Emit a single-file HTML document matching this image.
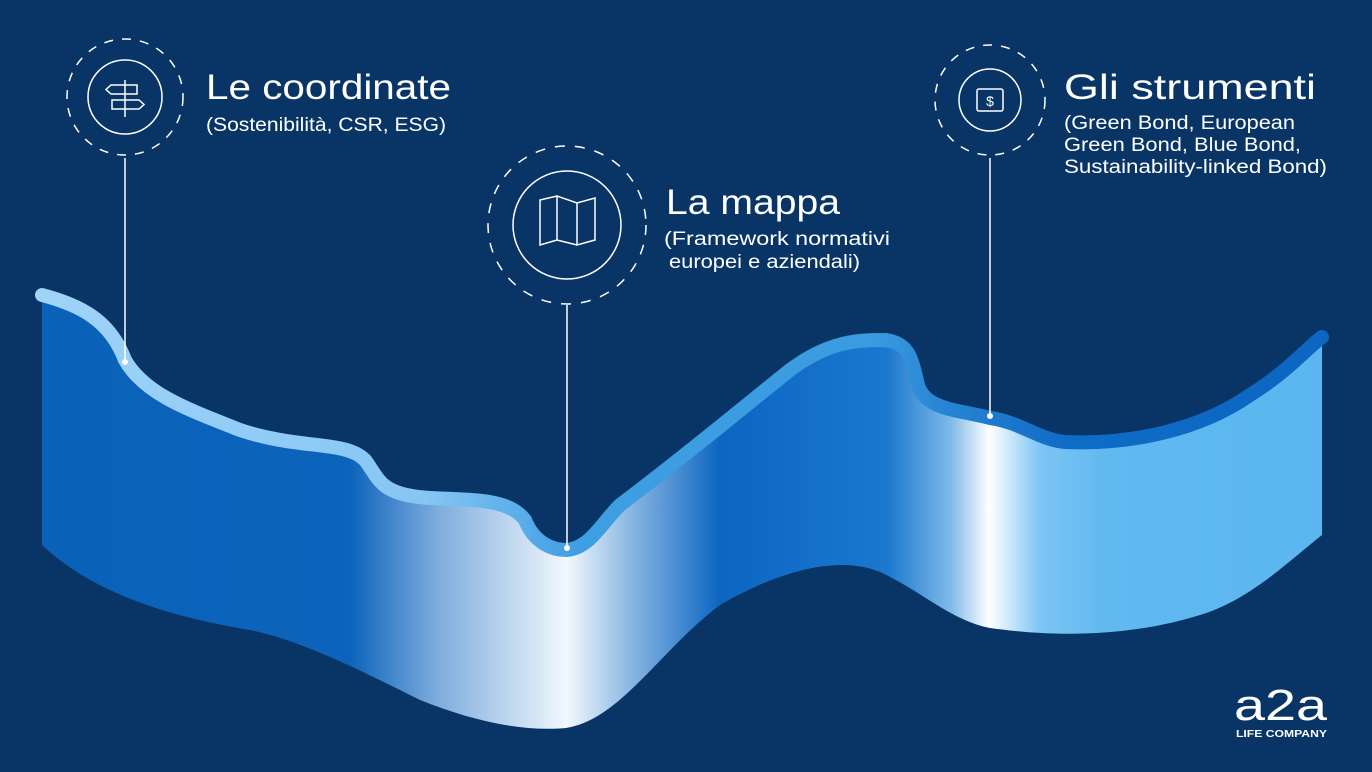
<!DOCTYPE html>
<html><head><meta charset="utf-8"><style>
html,body{margin:0;padding:0;background:#083566;}
svg{display:block;}
text{font-family:"Liberation Sans",sans-serif;fill:#fff;}
</style></head><body>
<svg width="1372" height="772" viewBox="0 0 1372 772" xmlns="http://www.w3.org/2000/svg">
<defs>
<linearGradient id="rib" x1="42" y1="0" x2="1322" y2="0" gradientUnits="userSpaceOnUse">
<stop offset="0" stop-color="#0a62b8"/>
<stop offset="0.24" stop-color="#0b63bb"/>
<stop offset="0.31" stop-color="#7fadde"/>
<stop offset="0.41" stop-color="#f2f8fd"/>
<stop offset="0.46" stop-color="#8ab6e2"/>
<stop offset="0.53" stop-color="#0c66c2"/>
<stop offset="0.66" stop-color="#1a78cf"/>
<stop offset="0.71" stop-color="#7fb9e8"/>
<stop offset="0.74" stop-color="#ffffff"/>
<stop offset="0.78" stop-color="#7cc4f3"/>
<stop offset="0.83" stop-color="#61b9f0"/>
<stop offset="1" stop-color="#5bb6ef"/>
</linearGradient>
<linearGradient id="band" x1="42" y1="0" x2="1322" y2="0" gradientUnits="userSpaceOnUse">
<stop offset="0" stop-color="#9fd3f8"/>
<stop offset="0.3" stop-color="#86c6f4"/>
<stop offset="0.42" stop-color="#3e9ee2"/>
<stop offset="0.65" stop-color="#3a9be0"/>
<stop offset="0.7" stop-color="#2a86d4"/>
<stop offset="0.8" stop-color="#0f6cc6"/>
<stop offset="1" stop-color="#0c66c2"/>
</linearGradient>
</defs>
<rect width="1372" height="772" fill="#083566"/>
<path d="M42,295 C80,305 110,320 125,360 C145,395 190,410 240,430 C300,450 345,440 365,460 C380,480 380,495 430,498 C480,500 510,500 525,520 C535,545 555,550 566,550 C590,548 600,525 620,505 C680,460 740,410 790,370 C830,340 860,340 885,340 C910,343 912,360 918,385 C925,410 960,410 990,418 C1020,422 1040,440 1065,442 C1130,445 1200,430 1250,395 C1290,370 1310,345 1322,337 L1322,535 C1290,560 1250,600 1200,615 C1120,640 1040,635 990,628 C950,620 920,590 880,572 C840,555 780,570 720,605 C660,650 620,720 566,728 C520,732 470,720 420,700 C360,670 300,640 250,630 C160,615 90,590 42,545 Z" fill="url(#rib)"/>
<path d="M42,295 C80,305 110,320 125,360 C145,395 190,410 240,430 C300,450 345,440 365,460 C380,480 380,495 430,498 C480,500 510,500 525,520 C535,545 555,550 566,550 C590,548 600,525 620,505 C680,460 740,410 790,370 C830,340 860,340 885,340 C910,343 912,360 918,385 C925,410 960,410 990,418 C1020,422 1040,440 1065,442 C1130,445 1200,430 1250,395 C1290,370 1310,345 1322,337" fill="none" stroke="url(#band)" stroke-width="14" stroke-linecap="round"/>
<g stroke="#fff" fill="none" stroke-width="1.5">
<circle cx="125" cy="97" r="58" stroke-dasharray="9 9"/>
<circle cx="125" cy="97" r="37"/>
<line x1="125" y1="158" x2="125" y2="362"/>
<circle cx="567" cy="225" r="79" stroke-dasharray="10 10"/>
<circle cx="567" cy="225" r="54"/>
<line x1="567" y1="305" x2="567" y2="548"/>
<circle cx="990" cy="100" r="55" stroke-dasharray="9 9"/>
<circle cx="990" cy="100" r="31"/>
<line x1="990" y1="158" x2="990" y2="416"/>
<line x1="125" y1="80" x2="125" y2="117"/>
<path d="M111,85 L137,85 L137,94 L111,94 L106,89.5 Z"/>
<path d="M112,100 L139,100 L144,104.5 L139,109 L112,109 Z"/>
<path d="M540,200 L557,196 L577,203 L595,198 L595,240 L577,245 L557,240 L540,245 Z"/>
<line x1="557" y1="196" x2="557" y2="240"/>
<line x1="577" y1="203" x2="577" y2="245"/>
<rect x="977" y="89" width="26" height="22" rx="2"/>
</g>
<text x="990" y="106" text-anchor="middle" font-size="14" fill="#fff">$</text>
<g fill="#fff"><circle cx="125" cy="362" r="3"/><circle cx="567" cy="548" r="3"/><circle cx="990" cy="416" r="3"/></g>
<text x="206" y="99" font-size="35" textLength="245" lengthAdjust="spacingAndGlyphs">Le coordinate</text>
<text x="206" y="131" font-size="19" textLength="240" lengthAdjust="spacingAndGlyphs">(Sostenibilità, CSR, ESG)</text>
<text x="666" y="214" font-size="35" textLength="174" lengthAdjust="spacingAndGlyphs">La mappa</text>
<text x="664" y="245" font-size="19" textLength="226" lengthAdjust="spacingAndGlyphs">(Framework normativi</text>
<text x="669" y="268" font-size="19" textLength="191" lengthAdjust="spacingAndGlyphs">europei e aziendali)</text>
<text x="1064" y="99" font-size="35" textLength="252" lengthAdjust="spacingAndGlyphs">Gli strumenti</text>
<text x="1064" y="129" font-size="19" textLength="231" lengthAdjust="spacingAndGlyphs">(Green Bond, European</text>
<text x="1064" y="151" font-size="19" textLength="237" lengthAdjust="spacingAndGlyphs">Green Bond, Blue Bond,</text>
<text x="1064" y="173" font-size="19" textLength="263" lengthAdjust="spacingAndGlyphs">Sustainability-linked Bond)</text>
<text x="1234" y="720" font-size="44" textLength="93" lengthAdjust="spacingAndGlyphs">a2a</text>
<text x="1236" y="737" font-size="10" font-weight="bold" textLength="91" lengthAdjust="spacingAndGlyphs">LIFE COMPANY</text>
</svg>
</body></html>
